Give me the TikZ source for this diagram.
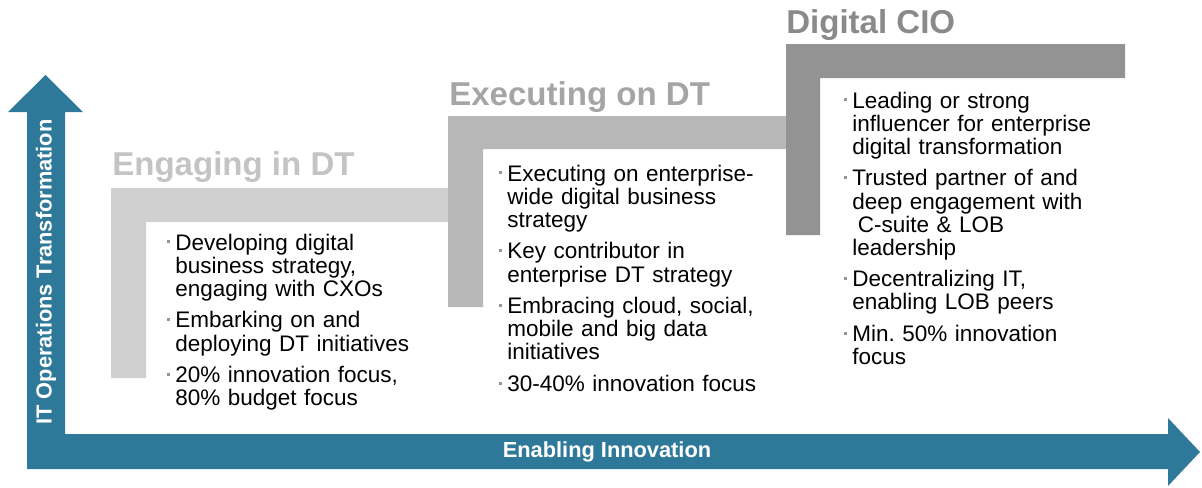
\documentclass[tikz,border=0pt]{standalone}
\usepackage{fontspec}
\setmainfont{Liberation Sans}
\usepackage{xcolor}
\usepackage{tikz}
\usetikzlibrary{positioning}
\definecolor{axisblue}{RGB}{46,121,153}
\definecolor{stepone}{RGB}{208,208,208}
\definecolor{steptwo}{RGB}{183,183,183}
\definecolor{stepthree}{RGB}{147,147,147}
\definecolor{titleone}{RGB}{196,196,196}
\definecolor{titletwo}{RGB}{165,165,165}
\definecolor{titlethree}{RGB}{138,138,138}
\definecolor{dotgray}{RGB}{150,150,150}

% small grey bullet hanging left of the text
\newcommand{\bul}{\par\noindent\llap{\textcolor{dotgray}{\rule[0.3em]{2.2pt}{2.2pt}}\hspace{3.5pt}}}

\begin{document}
\begin{tikzpicture}[
    x=0.025cm, y=-0.025cm,
    title/.style={anchor=base west, inner sep=0pt,
                  font=\fontsize{23.5}{26}\selectfont\bfseries},
    bullets/.style={anchor=north west, inner sep=0pt, text width=7cm, align=left,
                    font=\fontsize{16}{16.4}\selectfont,
                    execute at begin node={\setlength{\parskip}{6.2pt}}},
    axislabel/.style={text=white, inner sep=0pt,
                      font=\fontsize{15.5}{18}\selectfont\bfseries}
  ]
  \useasboundingbox (0,0) rectangle (1202,487);

  % both axes as one shape with two heads
  \fill[axisblue] (27,469) -- (27,112) -- (8,112) -- (45.5,75) -- (83,112) -- (65,112)
    -- (65,434) -- (1168,434) -- (1168,418) -- (1200,452) -- (1168,486)
    -- (1168,469) -- cycle;
  \node[axislabel, rotate=90] (ylabel) at (46,272) {IT Operations Transformation};
  \node[axislabel] (xlabel) at (607,452) {Enabling Innovation};

  % the three steps
  \fill[stepone]   (111,188) -- (448,188) -- (448,222) -- (146,222) -- (146,378) -- (111,378) -- cycle;
  \fill[steptwo]   (448,116) -- (787,116) -- (787,149) -- (483,149) -- (483,307) -- (448,307) -- cycle;
  \fill[stepthree] (786,44) -- (1125,44) -- (1125,78) -- (820,78) -- (820,235) -- (786,235) -- cycle;

  \node[title, text=titleone]   (engtitle) at (112,175) {Engaging in DT};
  \node[title, text=titletwo]   (exetitle) at (449,105) {Executing on DT};
  \node[title, text=titlethree] (ciotitle) at (786,33)  {Digital CIO};

  \node[bullets] (engtext) at (175,218) {%
    \bul Developing digital\\business strategy,\\engaging with CXOs
    \bul Embarking on and\\deploying DT initiatives
    \bul 20\% innovation focus,\\80\% budget focus};
  \node[bullets] (exetext) at (507,149) {%
    \bul Executing on enterprise-\\wide digital business\\strategy
    \bul Key contributor in\\enterprise DT strategy
    \bul Embracing cloud, social,\\mobile and big data\\initiatives
    \bul 30-40\% innovation focus};
  \node[bullets] (ciotext) at (852,76) {%
    \bul Leading or strong\\influencer for enterprise\\digital transformation
    \bul Trusted partner of and\\deep engagement with\\\hspace*{4pt}C-suite \& LOB\\leadership
    \bul Decentralizing IT,\\enabling LOB peers
    \bul Min.\ 50\% innovation\\focus};
\end{tikzpicture}
\end{document}
